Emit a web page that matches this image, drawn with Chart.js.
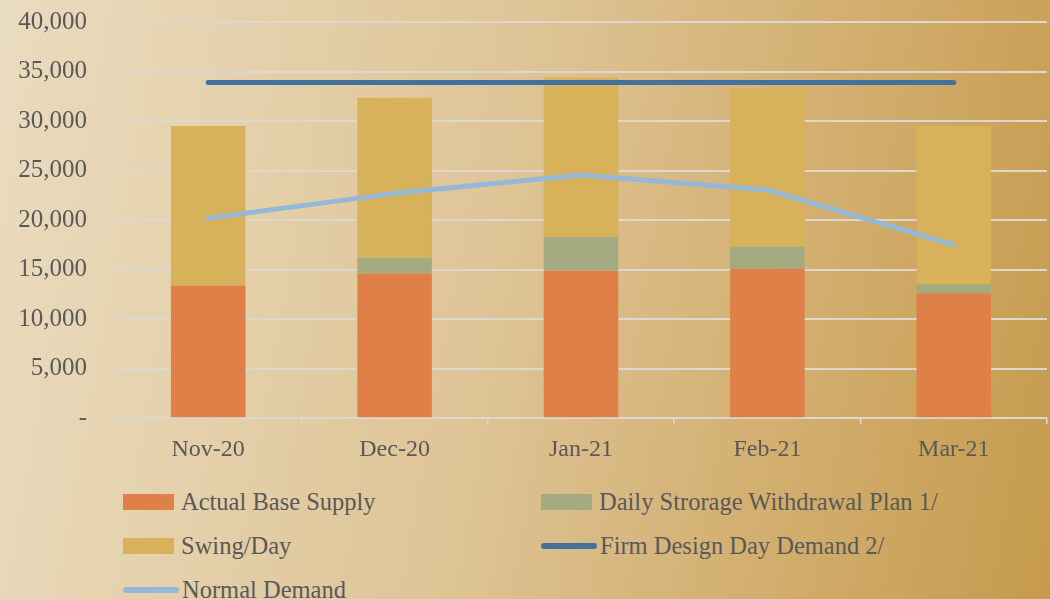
<!DOCTYPE html>
<html>
<head>
<meta charset="utf-8">
<script src="https://cdn.jsdelivr.net/npm/chart.js@4"></script>
<style>
    html, body {
        margin: 0;
        padding: 0;
    }
    body {
        width: 1050px;
        height: 599px;
        overflow: hidden;
        position: relative;
        background: linear-gradient(100deg, #eadcbf 0%, #dfc598 45%, #d2ae6e 75%, #c59a4c 100%);
        font-family: "Liberation Serif", serif;
    }
    #wrap {
        position: absolute;
        left: 0;
        top: -21px;
        width: 1050px;
        height: 496px;
    }
    #legend {
        position: absolute;
        left: 123px;
        top: 480px;
        display: grid;
        grid-template-columns: 418px 420px;
        grid-auto-rows: 44px;
        color: #595959;
        font-size: 24.5px;
    }
    .item {
        display: flex;
        align-items: center;
        white-space: nowrap;
    }
    .sw {
        display: inline-block;
        margin-right: 7px;
    }
</style>
</head>
<body>
<div id="wrap"><canvas id="chart"></canvas></div>
<div id="legend"></div>
<script>
// Data
const months = ['Nov-20', 'Dec-20', 'Jan-21', 'Feb-21', 'Mar-21'];
const baseSupply = [13400, 14600, 14900, 15100, 12600];
const storagePlan = [0, 1600, 3400, 2200, 900];
const swingDay = [16100, 16150, 16100, 16000, 16000];
const firmDemand = [33900, 33900, 33900, 33900, 33900];
const normalDemand = [20200, 22700, 24550, 23050, 17500];

const textColor = '#595959';
const gridColor = '#dcd8d0';

const canvas = document.getElementById('chart');

const chart = new Chart(canvas, {
    data: {
        labels: months,
        datasets: [
            {
                type: 'line',
                label: 'Firm Design Day Demand 2/',
                data: firmDemand,
                borderColor: '#41719c',
                borderWidth: 5,
                borderCapStyle: 'round',
                pointRadius: 0,
                stack: 'firm',
                order: 1
            },
            {
                type: 'line',
                label: 'Normal Demand',
                data: normalDemand,
                borderColor: '#95b8d6',
                borderWidth: 5,
                borderCapStyle: 'round',
                borderJoinStyle: 'round',
                pointRadius: 0,
                stack: 'normal',
                order: 0
            },
            {
                type: 'bar',
                label: 'Actual Base Supply',
                data: baseSupply,
                backgroundColor: '#de8047',
                stack: 's',
                order: 2
            },
            {
                type: 'bar',
                label: 'Daily Strorage Withdrawal Plan 1/',
                data: storagePlan,
                backgroundColor: '#a5ab80',
                stack: 's',
                order: 3
            },
            {
                type: 'bar',
                label: 'Swing/Day',
                data: swingDay,
                backgroundColor: '#d8b15b',
                stack: 's',
                order: 4
            }
        ]
    },
    options: {
        responsive: true,
        maintainAspectRatio: false,
        animation: false,
        datasets: {
            bar: {
                categoryPercentage: 1,
                barPercentage: 0.4
            }
        },
        layout: {
            padding: { top: 8, right: 3, left: 0, bottom: 0 }
        },
        plugins: {
            legend: { display: false },
            tooltip: { enabled: false }
        },
        scales: {
            x: {
                stacked: true,
                offset: true,
                grid: {
                    offset: true,
                    drawOnChartArea: false,
                    drawTicks: true,
                    tickLength: 6,
                    color: gridColor,
                    lineWidth: 1.5
                },
                border: {
                    color: gridColor,
                    width: 1.5
                },
                ticks: {
                    color: textColor,
                    padding: 11,
                    font: { family: 'Liberation Serif', size: 24 }
                }
            },
            y: {
                stacked: true,
                min: 0,
                max: 40000,
                afterFit: function(axis) {
                    axis.width = 115;
                },
                grid: {
                    drawTicks: false,
                    color: gridColor,
                    lineWidth: 2
                },
                border: { display: false },
                ticks: {
                    stepSize: 5000,
                    color: textColor,
                    padding: 28,
                    font: { family: 'Liberation Serif', size: 25 },
                    callback: function(value) {
                        return value === 0 ? '-' : value.toLocaleString('en-US');
                    }
                }
            }
        }
    }
});

// HTML legend laid out in two columns like the reference
const legendOrder = [2, 3, 4, 0, 1];
const legendEl = document.getElementById('legend');
legendOrder.forEach(function(i) {
    const ds = chart.data.datasets[i];
    const item = document.createElement('div');
    item.className = 'item';
    const sw = document.createElement('span');
    sw.className = 'sw';
    if (ds.type === 'bar') {
        sw.style.width = '51px';
        sw.style.height = '16px';
        sw.style.background = ds.backgroundColor;
    } else {
        sw.style.width = '56px';
        sw.style.height = '6px';
        sw.style.borderRadius = '3px';
        sw.style.background = ds.borderColor;
        sw.style.marginRight = '3px';
    }
    item.appendChild(sw);
    item.appendChild(document.createTextNode(ds.label));
    legendEl.appendChild(item);
});
</script>
</body>
</html>
